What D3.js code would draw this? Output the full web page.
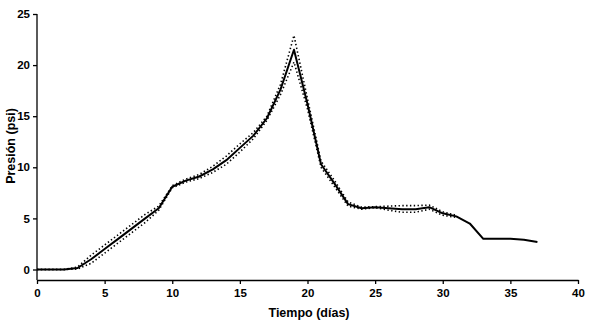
<!DOCTYPE html>
<html><head><meta charset="utf-8">
<script src="https://cdn.jsdelivr.net/npm/d3@7"></script>
<style>body{margin:0;background:#fff}svg{display:block}</style>
</head><body>
<svg id="c" width="589" height="320"></svg>
<script>
const days = [0,1,2,3,4,5,6,7,8,9,10,11,12,13,14,15,16,17,18,19,20,21,22,23,24,25,26,27,28,29,30,31,32,33,34,35,36,37];
const mean = [0,0,0,0.15,1.0,2.0,3.0,4.0,5.0,6.0,8.1,8.7,9.1,9.8,10.7,11.9,13.1,14.8,17.6,21.5,16.2,10.3,8.4,6.4,6.0,6.1,6.0,5.9,5.9,6.1,5.5,5.2,4.5,3.0,3.0,3.0,2.9,2.7];
const bandDays = [0,1,2,3,4,5,6,7,8,9,10,11,12,13,14,15,16,17,18,19,20,21,22,23,24,25,26,27,28,29,30,31];
const upper = [0,0,0,0.25,1.4,2.4,3.4,4.4,5.4,6.2,8.2,8.85,9.3,10.1,11.1,12.3,13.4,15.0,18.1,22.9,16.7,10.6,8.7,6.6,6.1,6.15,6.2,6.25,6.25,6.3,5.65,5.3];
const lower = [0,0,0,0.05,0.6,1.6,2.6,3.6,4.6,5.8,8.0,8.55,8.9,9.5,10.3,11.5,12.8,14.6,17.1,20.3,15.7,10.0,8.1,6.2,5.9,6.05,5.8,5.6,5.6,5.9,5.3,5.1];
const xTicks = [0,5,10,15,20,25,30,35,40];
const yTicks = [0,5,10,15,20,25];
const xTitle = "Tiempo (días)";
const yTitle = "Presión (psi)";

const svg = d3.select("#c");
const x = d3.scaleLinear().domain([0,40]).range([37,578]);
const y = d3.scaleLinear().domain([0,25]).range([269.5,14]);
const axisY = 280;
const font = "'Liberation Sans', Arial, sans-serif";

// x axis
const gx = svg.append("g").attr("transform", `translate(0,${axisY})`)
  .call(d3.axisBottom(x).tickValues(xTicks).tickSize(4).tickSizeOuter(0).tickPadding(5));
gx.select(".domain").attr("stroke","#000").attr("stroke-width",1.3);
gx.selectAll(".tick line").attr("stroke","#000").attr("stroke-width",1.3);
gx.selectAll("text").attr("font-family",font).attr("font-weight","bold").attr("font-size","11.5px").attr("fill","#000");

// y axis
const gy = svg.append("g").attr("transform", `translate(${x(0)},0)`)
  .call(d3.axisLeft(y).tickValues(yTicks).tickSize(4).tickSizeOuter(0).tickPadding(3));
gy.select(".domain").attr("d", `M0,${y(25)}V${axisY}`).attr("stroke","#000").attr("stroke-width",1.3);
gy.selectAll(".tick line").attr("stroke","#000").attr("stroke-width",1.3);
gy.selectAll("text").attr("font-family",font).attr("font-weight","bold").attr("font-size","11.5px").attr("fill","#000");

// titles
svg.append("text").attr("x",309).attr("y",317).attr("text-anchor","middle")
  .attr("font-family",font).attr("font-weight","bold").attr("font-size","12.5px").text(xTitle);
svg.append("text").attr("transform","translate(15,146) rotate(-90)").attr("text-anchor","middle")
  .attr("font-family",font).attr("font-weight","bold").attr("font-size","12.5px").text(yTitle);

const line = d3.line().x(d=>x(d[0])).y(d=>y(d[1]));
const dotted = [upper, lower];
dotted.forEach(arr => {
  svg.append("path").attr("d", line(bandDays.map((d,i)=>[d,arr[i]])))
    .attr("fill","none").attr("stroke","#000").attr("stroke-width",1.6)
    .attr("stroke-dasharray","1.4,2.4");
});
svg.append("path").attr("d", line(days.map((d,i)=>[d,mean[i]])))
  .attr("fill","none").attr("stroke","#000").attr("stroke-width",2).attr("stroke-linejoin","round");
</script>
</body></html>
